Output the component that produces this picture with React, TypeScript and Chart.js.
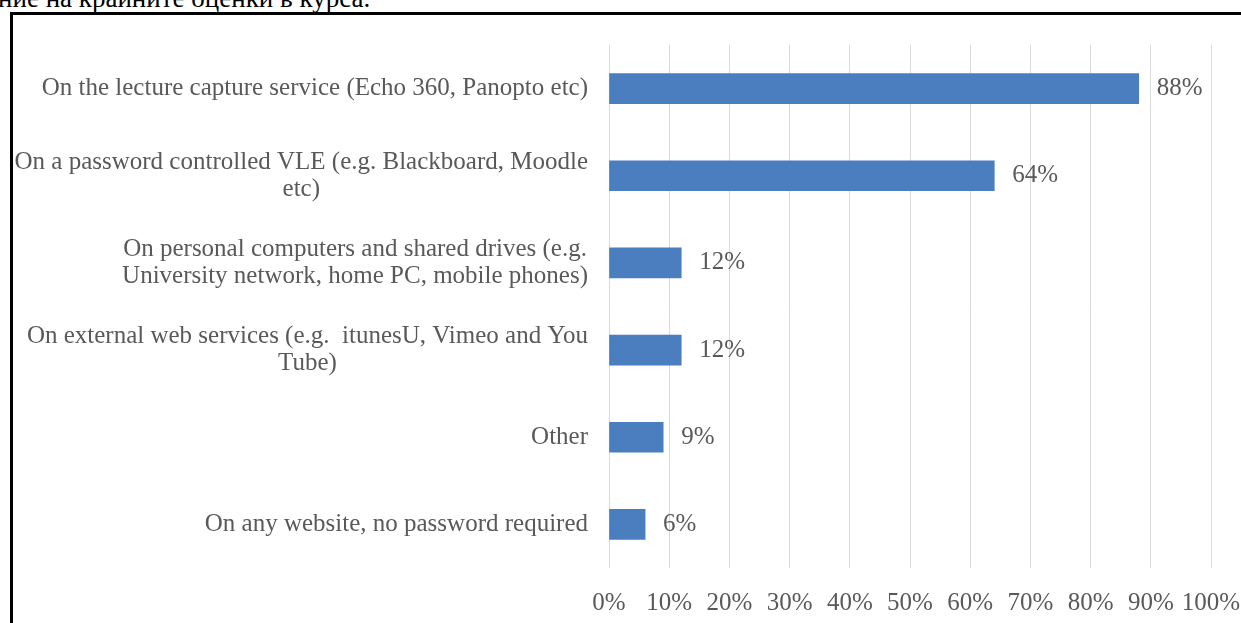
import React, { useEffect, useRef } from "react";
import { Chart, registerables } from "chart.js";

Chart.register(...registerables);

const categories: string[][] = [
  ["On the lecture capture service (Echo 360, Panopto etc)"],
  ["On a password controlled VLE (e.g. Blackboard, Moodle", "etc)"],
  ["On personal computers and shared drives (e.g.", "University network, home PC, mobile phones)"],
  ["On external web services (e.g.  itunesU, Vimeo and You", "Tube)"],
  ["Other"],
  ["On any website, no password required"],
];
const values: number[] = [88, 64, 12, 12, 9, 6];
const valueLabels: string[] = ["88%", "64%", "12%", "12%", "9%", "6%"];
const xTickMax = 100;
const xTickStep = 10;

const FONT = '"Liberation Serif", "Times New Roman", serif';
const TEXT_COLOR = "#595959";
const BAR_COLOR = "#4a7ebf";

export default function App() {
  const ref = useRef<HTMLCanvasElement | null>(null);

  useEffect(() => {
    if (!ref.current) return;
    const labelPlugin = {
      id: "customLabels",
      afterDraw(chart: any) {
        const ctx = chart.ctx;
        const yScale = chart.scales.y;
        const area = chart.chartArea;
        ctx.save();
        ctx.font = `25px ${FONT}`;
        ctx.fillStyle = TEXT_COLOR;
        ctx.textBaseline = "middle";
        ctx.textAlign = "center";
        const lineH = 27;
        categories.forEach((lines, i) => {
          const cy = yScale.getPixelForValue(i);
          const blockW = Math.max(...lines.map((l) => ctx.measureText(l).width));
          const right = area.left - 21;
          const cx = right - blockW / 2;
          const startY = cy - ((lines.length - 1) * lineH) / 2;
          lines.forEach((l, j) => ctx.fillText(l, cx, startY + j * lineH));
        });
        const meta = chart.getDatasetMeta(0);
        ctx.textAlign = "left";
        meta.data.forEach((el: any, i: number) => {
          ctx.fillText(valueLabels[i], el.x + 18, el.y);
        });
        ctx.restore();
      },
    };

    const chart = new Chart(ref.current, {
      type: "bar",
      data: {
        labels: categories.map((c) => c.join(" ")),
        datasets: [
          {
            data: values,
            backgroundColor: BAR_COLOR,
            borderWidth: 0,
            barThickness: 30,
          },
        ],
      },
      options: {
        indexAxis: "y",
        animation: false,
        responsive: false,
        devicePixelRatio: 1,
        layout: { padding: { left: 0, right: 30, top: 45, bottom: 0 } },
        plugins: {
          legend: { display: false },
          tooltip: { enabled: false },
        },
        scales: {
          x: {
            min: 0,
            max: xTickMax,
            ticks: {
              stepSize: xTickStep,
              callback: (v: any) => `${v}%`,
              color: TEXT_COLOR,
              font: { family: FONT, size: 25 },
              padding: 20,
              maxRotation: 0,
              autoSkip: false,
            },
            grid: { color: "#d9d9d9", lineWidth: 1, drawTicks: false },
            border: { display: false },
            afterFit: (scale: any) => {
              scale.height = 55;
              scale.paddingLeft = 0;
              scale.paddingRight = 0;
            },
          },
          y: {
            ticks: { display: false },
            grid: { display: false },
            border: { display: false },
            afterFit: (scale: any) => {
              scale.width = 609;
              scale.paddingTop = 0;
              scale.paddingBottom = 0;
            },
          },
        },
      },
      plugins: [labelPlugin],
    } as any);
    return () => chart.destroy();
  }, []);

  return (
    <div
      style={{
        position: "fixed",
        left: 0,
        top: 0,
        width: 1241,
        height: 623,
        overflow: "hidden",
        background: "#fff",
      }}
    >
      <div
        style={{
          position: "absolute",
          left: -2,
          top: -15,
          fontFamily: FONT,
          fontSize: 27,
          lineHeight: "27px",
          color: "#000",
          whiteSpace: "nowrap",
        }}
      >
        ние на крайните оценки в курса.
      </div>
      <div
        style={{
          position: "absolute",
          left: 10,
          top: 12,
          width: 1400,
          height: 800,
          borderTop: "3px solid #000",
          borderLeft: "3px solid #000",
        }}
      />
      <canvas
        ref={ref}
        width={1241}
        height={623}
        style={{ position: "absolute", left: 0, top: 0, width: 1241, height: 623 }}
      />
    </div>
  );
}
